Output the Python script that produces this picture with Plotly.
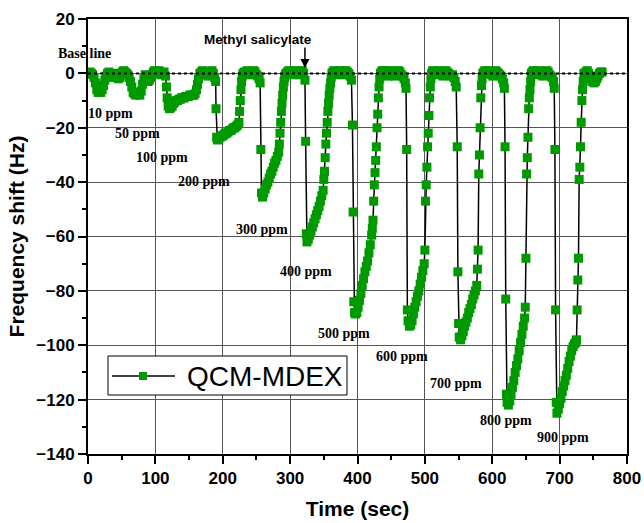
import plotly.graph_objects as go

# ---- data (time in s, frequency shift in Hz) ----
t_10 = [1, 3, 5, 7, 9, 11, 13, 15, 17, 19, 21, 23, 25, 27, 29]
f_10 = [0, 0.5, 0, -0.5, -1.5, -3.5, -6, -7, -6.5, -7, -6, -4.5, -2.5, -1, 0]
t_b1 = [31, 33, 35, 37, 39, 41, 43, 45, 47, 49, 51, 53, 55, 57, 59, 61]
f_b1 = [0.5, 0, -1, -1.5, -0.5, 0, -1, -2, -1.5, -0.5, 0.5, 1, 0.5, 0, -0.5, -1.5]
t_50 = [63, 65, 67, 69, 71, 73, 75, 77, 79, 81, 83, 85]
f_50 = [-3, -5, -7, -7.5, -8, -7.5, -7, -8, -6.5, -4, -2, -0.5]
t_b2 = [87, 89, 91, 93, 95, 97, 99, 101, 103, 105, 107, 109, 111, 113, 115]
f_b2 = [-2, -3, -2.5, -1.5, -0.5, 0.5, 1, 0.5, 0, 1, 0.5, -0.5, 0, 0.5, -1]
t_100 = [116.5, 117.5, 119, 121, 123, 125, 127, 129, 131, 133, 135, 137, 139, 141,
         143, 145, 147, 149, 151, 153, 155, 157, 159, 161, 162.5, 164, 166]
f_100 = [-5, -9, -12, -13, -12.5, -12, -11, -10.5, -10, -10, -9.5, -9.5, -9, -9,
         -9, -8.5, -8.5, -8.5, -8, -8, -8, -8, -7.5, -6, -4, -2, 0]
t_b3 = [168, 170, 172, 174, 176, 178, 180, 182, 184, 186, 188, 189.5]
f_b3 = [0.5, 1, 0.5, 0, -0.5, -1, 0, 0.5, 1, 0, -1.5, -3]
t_200 = [190, 191, 192, 194, 196, 198, 200, 202, 204, 206, 208, 210, 212, 214, 216,
         218, 220, 222, 224, 225, 226, 227, 228, 229, 230]
f_200 = [-13, -23.5, -24.5, -24, -23.5, -23, -23, -22.5, -22, -22, -21.5, -21, -21,
         -20.5, -20, -20, -19.5, -19, -18, -14, -10, -6, -3, -1, 0]
t_b4 = [232, 234, 236, 238, 240, 242, 244, 246, 248, 250, 252, 254, 255.5]
f_b4 = [0.5, 0, 1, 0.5, -0.5, 0, 0.5, 1, 0.5, -0.5, -1, -2, -3.5]
t_300 = [256.5, 257.5, 259, 261, 263, 265, 267, 269, 271, 273, 275, 277, 279, 281,
         283, 284, 285, 286, 287, 288, 289, 290, 291, 292, 293, 294]
f_300 = [-28, -44, -45.5, -44, -42.5, -41, -40, -38.5, -37, -36, -34.5, -33, -32,
         -30.5, -29, -26, -22, -18, -14, -11, -8, -5, -3, -1.5, -0.5, 0]
t_b5 = [296, 298, 300, 302, 304, 306, 308, 310, 312, 314, 316, 318, 320, 322]
f_b5 = [0.5, 1, 0.5, 0, -0.5, 0, 1, 0.5, 0, -0.5, 0.5, 1, 0, -2.5]
t_400 = [323, 324, 325, 327, 329, 331, 333, 335, 337, 339, 341, 343, 345, 347, 349,
         350, 351, 352, 353, 354, 355, 356, 357, 358, 359, 360, 361, 362]
f_400 = [-25, -59, -62, -61, -59.5, -58, -56.5, -55, -53.5, -52, -50.5, -49, -47,
         -45, -43, -39, -36, -31, -26, -22, -18, -14, -11, -8, -5.5, -3.5, -1.5, 0]
t_b6 = [363.5, 365, 367, 369, 371, 373, 375, 377, 379, 381, 383, 385, 387, 389, 391]
f_b6 = [0.5, 1, 0.5, -0.5, 0, 0.5, 1, 0, -0.5, 0.5, 1, 0.5, 0, -1, -2.5]
t_500 = [392.5, 393.5, 394.5, 395.5, 397, 399, 401, 403, 405, 407, 409, 411, 413,
         415, 417, 419, 421, 422, 423, 424, 425, 426, 427, 428, 429, 430, 431, 432,
         433, 434]
f_500 = [-19, -51, -84, -88, -88.5, -88, -86, -83.5, -81, -78, -75.5, -73, -71, -69,
         -66, -63, -59.5, -57, -54, -47, -41, -36.5, -32, -27, -20, -15, -9, -5, -2, 0]
t_b7 = [435.5, 437, 439, 441, 443, 445, 447, 449, 451, 453, 455, 457, 459, 461, 463,
        465, 467, 469, 471, 472]
f_b7 = [0.5, 1, 1, 0.5, 0, -1, -0.5, 0.5, 1, 0, -1, -0.5, 0.5, 1, 0.5, -0.5, -1, -2,
        -3.5, -5.5]
t_600 = [473, 474, 475, 477, 479, 481, 483, 485, 487, 489, 491, 493, 495, 497, 499,
         500, 501, 502, 503, 504, 505, 506, 507, 508, 509, 510]
f_600 = [-28, -87, -91, -93, -92.5, -91, -88.5, -86, -84, -82, -80, -77.5, -75,
         -72.5, -70, -65, -47, -41, -34.5, -27, -22, -15.5, -9, -5, -2, 0]
t_b8 = [511.5, 513, 515, 517, 519, 521, 523, 525, 527, 529, 531, 533, 535, 537, 539,
        541, 543, 545, 546.5]
f_b8 = [1, 0.5, 0, -0.5, 0.5, 1, 0.5, -0.5, -1, 0, 1, 0.5, 0, -0.5, -1, -0.5, -1.5,
        -3, -5]
t_700 = [548, 549, 550, 551, 553, 555, 557, 559, 561, 563, 565, 567, 569, 571, 573,
         575, 577, 578, 579, 580, 581, 582, 583, 584, 585, 586]
f_700 = [-27, -73, -92, -97, -98, -96.5, -95, -93, -91.5, -90, -88, -86.5, -85, -83,
         -81.5, -80, -78, -72, -65, -37, -30, -20, -9, -4.5, -2, 0]
t_b9 = [587.5, 589, 591, 593, 595, 597, 599, 601, 603, 605, 607, 609, 611, 613, 615,
        617, 618]
f_b9 = [0.5, 1, 0.5, 0, 1, 0.5, -0.5, -1, 0, 1, 0.5, 0, -0.5, -1, -2, -3.5, -5.5]
t_800 = [619, 620, 621, 622, 624, 626, 628, 630, 632, 634, 636, 638, 640, 642, 644,
         646, 648, 649, 650, 651, 652, 653, 654, 655, 656, 657, 658]
f_800 = [-27, -83, -118, -121, -122, -120.5, -118, -115.5, -113, -110, -107.5, -105,
         -102, -99, -96, -93, -90, -86, -68, -37, -31, -23.5, -13, -9, -6, -3, 0]
t_b10 = [659.5, 661, 663, 665, 667, 669, 671, 673, 675, 677, 679, 681, 683, 685, 687,
         689, 691, 692]
f_b10 = [0.5, 1, 0.5, -0.5, 0, 1, 0.5, -0.5, -1, 0, 0.5, 1, 0.5, -0.5, -1, -1.5, -3,
         -5.5]
t_900 = [693, 694, 695, 696, 698, 700, 702, 704, 706, 708, 710, 712, 714, 716, 718,
         720, 722, 724, 725, 726, 727, 728, 729, 730, 731, 732, 733, 734, 735, 736]
f_900 = [-28, -87, -121, -125, -123.5, -121.5, -119.5, -117, -115, -113, -111,
         -108.5, -106, -104, -102, -100.5, -99.5, -99, -98, -87, -76, -68, -39,
         -34.5, -27, -18, -10, -6, -3, 0]
t_end = [737.5, 739, 741, 743, 745, 747, 749, 751, 753, 755, 757, 759, 761, 763]
f_end = [-1, 0.5, 1, 0, -1, -2, -3, -3.5, -3, -2, -1, 0, 0.5, 0.5]

segments = [(t_10, f_10), (t_b1, f_b1), (t_50, f_50), (t_b2, f_b2), (t_100, f_100),
            (t_b3, f_b3), (t_200, f_200), (t_b4, f_b4), (t_300, f_300), (t_b5, f_b5),
            (t_400, f_400), (t_b6, f_b6), (t_500, f_500), (t_b7, f_b7), (t_600, f_600),
            (t_b8, f_b8), (t_700, f_700), (t_b9, f_b9), (t_800, f_800), (t_b10, f_b10),
            (t_900, f_900), (t_end, f_end)]
time_s, shift_hz = [], []
for ts, fs in segments:
    assert len(ts) == len(fs), (ts[0], len(ts), len(fs))
    time_s += ts
    shift_hz += fs

conc_labels = ["10 ppm", "50 ppm", "100 ppm", "200 ppm", "300 ppm", "400 ppm",
               "500 ppm", "600 ppm", "700 ppm", "800 ppm", "900 ppm"]
label_x = [33, 73, 110, 172, 258, 323, 380, 466, 546, 620, 705]
label_y = [-14.7, -22, -31, -39.7, -57.4, -72.8, -95.6, -104, -114, -127.6, -133.8]

GREEN = "#009a00"

fig = go.Figure()
fig.add_trace(go.Scatter(
    x=time_s, y=shift_hz, mode="lines+markers", name="QCM-MDEX",
    line=dict(color="black", width=1.5),
    marker=dict(symbol="square", size=9, color=GREEN),
    showlegend=False))

axis_common = dict(
    showline=True, linewidth=2, linecolor="black", mirror=True,
    ticks="outside", ticklen=8, tickwidth=2, tickcolor="black",
    showgrid=True, gridcolor="#555555", gridwidth=1, zeroline=False,
    automargin=False,
    tickfont=dict(family="Arial", size=17, color="black", weight="bold"),
)
fig.update_xaxes(range=[0, 800], tick0=0, dtick=100,
                 minor=dict(dtick=50, ticks="outside", ticklen=4, tickwidth=1.5,
                            tickcolor="black", showgrid=False),
                 title=dict(text="Time (sec)", standoff=14,
                            font=dict(family="Arial", size=21, color="black", weight="bold")),
                 **axis_common)
fig.update_yaxes(range=[-140, 20], tick0=0, dtick=20,
                 minor=dict(dtick=10, ticks="outside", ticklen=4, tickwidth=1.5,
                            tickcolor="black", showgrid=False),
                 title=dict(text="Frequency shift (Hz)", standoff=6,
                            font=dict(family="Arial", size=21, color="black", weight="bold")),
                 **axis_common)

shapes = [
    dict(type="line", xref="paper", yref="y", x0=0, x1=1, y0=0, y1=0,
         line=dict(color="black", width=2, dash="dot"), layer="above"),
    # custom legend
    dict(type="rect", xref="paper", yref="paper", x0=0.0371, x1=0.4805, y0=0.1356, y1=0.2253,
         line=dict(color="black", width=1), fillcolor="white", layer="above"),
    dict(type="line", xref="paper", yref="paper", x0=0.0445, x1=0.1614, y0=0.1793, y1=0.1793,
         line=dict(color="black", width=1.5), layer="above"),
    dict(type="rect", xref="paper", yref="paper", x0=0.102 - 0.0074, x1=0.102 + 0.0074,
         y0=0.1793 - 0.0092, y1=0.1793 + 0.0092, line=dict(width=0), fillcolor=GREEN,
         layer="above"),
]

annotations = []
for txt, lx, ly in zip(conc_labels, label_x, label_y):
    annotations.append(dict(x=lx, y=ly, xref="x", yref="y", text=txt, showarrow=False,
                            font=dict(family="Liberation Serif", size=14, color="black",
                                      weight="bold")))
annotations += [
    dict(x=0, y=7.4, xref="x", yref="y", text="Base line", showarrow=False, xshift=-4,
         font=dict(family="Liberation Serif", size=14, color="black", weight="bold")),
    dict(x=253, y=12.5, xref="x", yref="y", text="Methyl salicylate", showarrow=False,
         font=dict(family="Arial", size=13.5, color="black", weight="bold")),
    dict(x=322, y=2.0, xref="x", yref="y", text="", showarrow=True, ax=0, ay=-22,
         arrowhead=2, arrowsize=1.2, arrowwidth=1.5, arrowcolor="black", standoff=0),
    dict(x=0.18, y=0.1793, xref="paper", yref="paper", text="QCM-MDEX", showarrow=False,
         xanchor="left", yanchor="middle",
         font=dict(family="Arial", size=28, color="black")),
]

fig.update_layout(
    width=644, height=523,
    margin=dict(l=88, r=17, t=19, b=69),
    paper_bgcolor="white", plot_bgcolor="white",
    shapes=shapes, annotations=annotations,
    showlegend=False,
)

# remove the default page margin so the 644x523 figure fills the window exactly
fig.write_html(
    "out.html",
    config={"displayModeBar": False},
    post_script="document.body.style.margin='0px';"
                "document.documentElement.style.overflow='hidden';"
                "document.body.style.overflow='hidden';",
)
